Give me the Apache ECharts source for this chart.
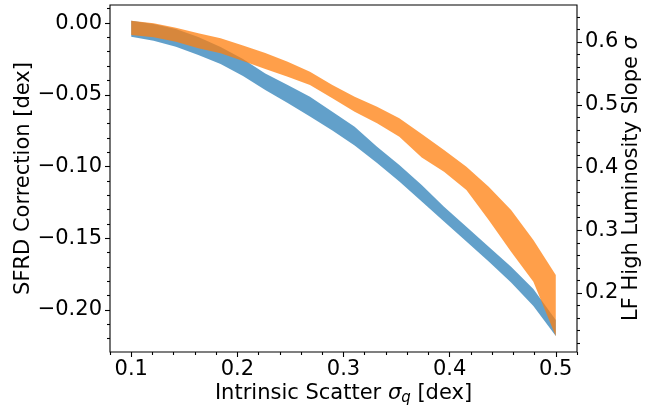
<!DOCTYPE html>
<html>
<head>
<meta charset="utf-8">
<script src="https://cdn.jsdelivr.net/npm/echarts@6/dist/echarts.min.js"></script>
<style>html,body{margin:0;padding:0;background:#fff}#c{width:654px;height:407px}</style>
</head>
<body>
<div id="c"></div>
<script>
// Intrinsic scatter grid (x)
const scatterX = [0.1, 0.1211, 0.1421, 0.1632, 0.1842, 0.2053, 0.2263, 0.2474, 0.2684, 0.2895,
  0.3105, 0.3316, 0.3526, 0.3737, 0.3947, 0.4158, 0.4368, 0.4579, 0.4789, 0.5];
// SFRD correction band (left axis)
const sfrdUpper = [0.0016, -0.0007, -0.0042, -0.0098, -0.0167, -0.0251, -0.0351, -0.0432, -0.0514, -0.0619,
  -0.0723, -0.0863, -0.0990, -0.1130, -0.1281, -0.1421, -0.1560, -0.1699, -0.1855, -0.2071];
const sfrdLower = [-0.0096, -0.0123, -0.0165, -0.0223, -0.0286, -0.0370, -0.0467, -0.0558, -0.0652, -0.0750,
  -0.0854, -0.0976, -0.1105, -0.1245, -0.1384, -0.1524, -0.1663, -0.1810, -0.1974, -0.2183];
// LF high luminosity slope band (right axis)
const slopeUpper = [0.6339, 0.6298, 0.6228, 0.6139, 0.6059, 0.5944, 0.5825, 0.5686, 0.5527, 0.5315,
  0.5128, 0.4969, 0.4784, 0.4534, 0.4279, 0.4013, 0.3694, 0.3323, 0.2845, 0.2287];
const slopeLower = [0.6112, 0.6075, 0.6005, 0.5900, 0.5820, 0.5697, 0.5570, 0.5447, 0.5315, 0.5103,
  0.4889, 0.4704, 0.4491, 0.4159, 0.3933, 0.3641, 0.3163, 0.2658, 0.2180, 0.1310];
// Tick values
const xMajor = [0.1, 0.2, 0.3, 0.4, 0.5];
const xMinor = [0.08, 0.12, 0.14, 0.16, 0.18, 0.22, 0.24, 0.26, 0.28, 0.32, 0.34, 0.36, 0.38, 0.42, 0.44, 0.46, 0.48, 0.52];
const leftMajor = [0, -0.05, -0.1, -0.15, -0.2];
const leftMinor = [0.01, -0.01, -0.02, -0.03, -0.04, -0.06, -0.07, -0.08, -0.09, -0.11, -0.12, -0.13, -0.14, -0.16, -0.17, -0.18, -0.19, -0.21, -0.22];
const rightMajor = [0.2, 0.3, 0.4, 0.5, 0.6];
const rightMinor = [0.12, 0.14, 0.16, 0.18, 0.22, 0.24, 0.26, 0.28, 0.32, 0.34, 0.36, 0.38, 0.42, 0.44, 0.46, 0.48, 0.52, 0.54, 0.56, 0.58, 0.62, 0.64];

const FONT = 'DejaVu Sans';
const FS = 21;
const X_MIN = 0.08, X_MAX = 0.52;
const L_MIN = -0.2294, L_MAX = 0.0126;
const R_MIN = 0.106, R_MAX = 0.659;

function fmtLeft(v) {
  const s = Math.abs(v).toFixed(2);
  return (v < -1e-9 ? '\u2212' : '') + s;
}

function band(xs, lo, hi, color, yIdx) {
  return {
    type: 'custom', xAxisIndex: 0, yAxisIndex: yIdx, silent: true, animation: false,
    data: [[xs[0], lo[0]]],
    renderItem: function (params, api) {
      const pts = [];
      for (let i = 0; i < xs.length; i++) pts.push(api.coord([xs[i], hi[i]]));
      for (let i = xs.length - 1; i >= 0; i--) pts.push(api.coord([xs[i], lo[i]]));
      return { type: 'polygon', shape: { points: pts }, style: { fill: color, stroke: null } };
    }
  };
}

const tickStyle = { color: '#000', width: 1.1 };
const noLine = { show: false, onZero: false };
const chart = echarts.init(document.getElementById('c'), null, { renderer: 'canvas' });
chart.setOption({
  animation: false,
  textStyle: { fontFamily: FONT },
  grid: { left: 110, right: 77, top: 5, bottom: 55, show: true, borderColor: '#000', borderWidth: 1.1,
    backgroundColor: 'transparent', containLabel: false, outerBoundsMode: 'none' },
  xAxis: [
    {
      type: 'value', min: X_MIN, max: X_MAX, position: 'bottom',
      axisLine: noLine, splitLine: { show: false },
      axisTick: { show: true, customValues: xMajor, length: 5, lineStyle: tickStyle },
      axisLabel: { customValues: xMajor, margin: 7, fontSize: FS, fontFamily: FONT, color: '#000', formatter: v => v.toFixed(1) },
      name: 'Intrinsic Scatter {s|σ}{q|q} [dex]', nameLocation: 'middle', nameGap: 31, nameMoveOverlap: false,
      nameTextStyle: { fontSize: FS, fontFamily: FONT, color: '#000',
        rich: { s: { fontSize: FS, fontStyle: 'italic', fontFamily: FONT, color: '#000' },
                q: { fontSize: 15, fontStyle: 'italic', fontFamily: FONT, color: '#000', lineHeight: 15, padding: [8, 0, 0, 0], verticalAlign: 'top' } } }
    },
    {
      type: 'value', min: X_MIN, max: X_MAX, position: 'bottom',
      axisLine: noLine, splitLine: { show: false }, axisLabel: { show: false },
      axisTick: { show: true, customValues: xMinor, length: 3, lineStyle: tickStyle }
    }
  ],
  yAxis: [
    {
      type: 'value', min: L_MIN, max: L_MAX, position: 'left',
      axisLine: noLine, splitLine: { show: false },
      axisTick: { show: true, customValues: leftMajor, length: 5, lineStyle: tickStyle },
      axisLabel: { customValues: leftMajor, margin: 8, fontSize: FS, fontFamily: FONT, color: '#000', formatter: fmtLeft },
      name: 'SFRD Correction [dex]', nameLocation: 'middle', nameGap: 76, nameRotate: 90, nameMoveOverlap: false,
      nameTextStyle: { fontSize: FS, fontFamily: FONT, color: '#000' }
    },
    {
      type: 'value', min: R_MIN, max: R_MAX, position: 'right',
      axisLine: noLine, splitLine: { show: false },
      axisTick: { show: true, customValues: rightMajor, length: 5, lineStyle: tickStyle },
      axisLabel: { customValues: rightMajor, margin: 8, fontSize: FS, fontFamily: FONT, color: '#000', formatter: v => v.toFixed(1) },
      name: 'LF High Luminosity Slope {s|σ}', nameLocation: 'middle', nameGap: 44, nameRotate: 90, nameMoveOverlap: false,
      nameTextStyle: { fontSize: FS, fontFamily: FONT, color: '#000',
        rich: { s: { fontSize: FS, fontStyle: 'italic', fontFamily: FONT, color: '#000' } } }
    },
    {
      type: 'value', min: L_MIN, max: L_MAX, position: 'left',
      axisLine: noLine, splitLine: { show: false }, axisLabel: { show: false },
      axisTick: { show: true, customValues: leftMinor, length: 3, lineStyle: tickStyle }
    },
    {
      type: 'value', min: R_MIN, max: R_MAX, position: 'right',
      axisLine: noLine, splitLine: { show: false }, axisLabel: { show: false },
      axisTick: { show: true, customValues: rightMinor, length: 3, lineStyle: tickStyle }
    }
  ],
  series: [
    band(scatterX, sfrdLower, sfrdUpper, 'rgba(31,119,180,0.7)', 0),
    band(scatterX, slopeLower, slopeUpper, 'rgba(255,127,14,0.75)', 1)
  ]
});
</script>
</body>
</html>
